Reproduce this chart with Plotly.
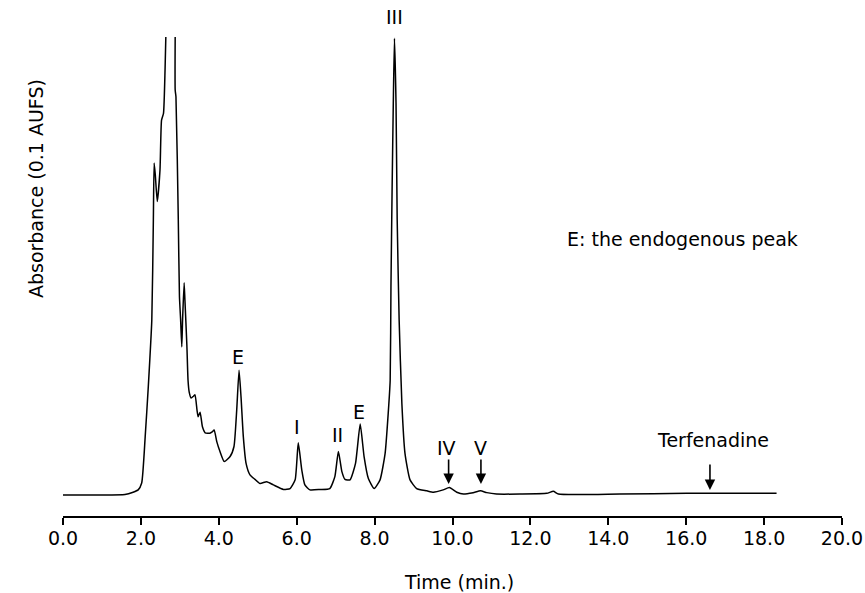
import plotly.graph_objects as go

# Chromatogram trace (time in min, relative absorbance; None = pen off-scale)
time_min = [0.00, 0.95, 1.59, 1.80, 1.93, 2.02, 2.11, 2.19, 2.28, 2.32, 2.34, 2.37, 2.42, 2.49, 2.53,
            2.58, 2.62, 2.64, None,
            2.88, 2.88, 2.90, 2.96, 2.99, 3.02, 3.05, 3.07, 3.11, 3.13, 3.18, 3.21, 3.24, 3.29, 3.35,
            3.39, 3.44, 3.47, 3.52, 3.58, 3.65, 3.77, 3.83, 3.88, 3.95, 4.03, 4.14, 4.29, 4.39, 4.46,
            4.52, 4.57, 4.63, 4.70, 4.80, 4.93, 5.06, 5.23, 5.40, 5.66, 5.83, 5.96, 6.04, 6.13, 6.21,
            6.34, 6.60, 6.85, 6.98, 7.07, 7.16, 7.24, 7.37, 7.51, 7.63, 7.73, 7.84, 7.99, 8.14, 8.27,
            8.35, 8.40, 8.42, 8.45, 8.48, 8.51, 8.55, 8.58, 8.63, 8.70, 8.78, 8.91, 9.08, 9.34, 9.51,
            9.76, 9.92, 10.11, 10.28, 10.53, 10.72, 10.88, 11.13, 11.73, 12.42, 12.59, 12.72, 14.30,
            16.01, 17.72, 18.32]
absorbance = [-0.2, -0.2, -0.1, 0.4, 0.9, 2.4, 12.5, 23.5, 38.1, 60.0, 72.4, 69.8, 64.0, 70.9, 81.8,
              83.3, 92.8, 100.0, None,
              100.0, 88.4, 86.9, 60.0, 43.2, 38.1, 32.2, 38.1, 46.2, 42.5, 32.6, 24.9, 22.3, 21.0, 21.4,
              21.7, 18.4, 16.9, 17.9, 14.7, 13.4, 13.3, 13.6, 14.0, 11.4, 9.3, 7.1, 8.2, 10.4, 18.4,
              27.1, 21.3, 12.5, 6.7, 4.2, 3.2, 2.3, 2.7, 2.0, 1.0, 1.2, 3.1, 11.2, 5.3, 2.0,
              0.9, 1.0, 1.2, 3.8, 9.3, 4.9, 3.2, 3.1, 6.7, 15.3, 8.2, 3.4, 1.2, 3.1, 8.9,
              17.7, 24.9, 45.4, 67.2, 85.5, 99.7, 85.5, 60.0, 38.1, 19.8, 8.9, 3.1, 1.2, 0.7, 0.4,
              0.9, 1.4, 0.4, 0.0, 0.3, 0.7, 0.3, 0.0, 0.0, 0.15, 0.6, 0.0, 0.0,
              0.15, 0.15, 0.15]

# Peak labels
peak_labels = ["E", "I", "II", "E", "III"]
peak_label_t = [4.49, 6.02, 7.04, 7.61, 8.51]
peak_label_y = [30.0, 14.7, 12.9, 18.0, 104.4]

# Arrow-marked peaks
arrow_labels = ["IV", "V", "Terfenadine"]
arrow_t = [9.90, 10.73, 16.61]
arrow_label_t = [9.85, 10.72, 16.69]
arrow_label_y = [10.0, 10.0, 11.8]
arrow_tail_y = [7.9, 7.9, 6.8]
arrow_head_y = [2.2, 2.2, 0.9]

x_ticks = [0, 2, 4, 6, 8, 10, 12, 14, 16, 18, 20]
x_tick_text = ["0.0", "2.0", "4.0", "6.0", "8.0", "10.0", "12.0", "14.0", "16.0", "18.0", "20.0"]

FONT = "DejaVu Sans"

fig = go.Figure()
fig.add_trace(go.Scatter(x=time_min, y=absorbance, mode="lines",
                         line=dict(color="black", width=1.5, shape="spline", smoothing=0.5),
                         connectgaps=False, showlegend=False, hoverinfo="skip"))

annotations = []
for lab, t, y in zip(peak_labels, peak_label_t, peak_label_y):
    annotations.append(dict(x=t, y=y, xref="x", yref="y", text=lab, showarrow=False,
                            font=dict(family=FONT, size=19, color="black")))
for lab, t, lt, ly, ty, hy in zip(arrow_labels, arrow_t, arrow_label_t, arrow_label_y,
                                  arrow_tail_y, arrow_head_y):
    annotations.append(dict(x=lt, y=ly, xref="x", yref="y", text=lab, showarrow=False,
                            font=dict(family=FONT, size=19, color="black")))
    annotations.append(dict(x=t, y=hy, ax=t, ay=ty, xref="x", yref="y", axref="x", ayref="y",
                            text="", showarrow=True, arrowhead=2, arrowsize=1.3, arrowwidth=1.6,
                            arrowcolor="black", standoff=0, startstandoff=0))

annotations.append(dict(x=12.89, y=55.8, xref="x", yref="y", xanchor="left",
                        text="E: the endogenous peak", showarrow=False,
                        font=dict(family=FONT, size=19, color="black")))
annotations.append(dict(x=10.17, y=0, xref="x", yref="paper", yanchor="middle", yshift=-66,
                        text="Time (min.)", showarrow=False,
                        font=dict(family=FONT, size=19, color="black")))
annotations.append(dict(x=-0.0347, y=0.648, xref="paper", yref="paper", xanchor="center",
                        yanchor="middle", textangle=-90,
                        text="Absorbance (0.1 AUFS)", showarrow=False,
                        font=dict(family=FONT, size=19, color="black")))

fig.update_layout(
    width=865, height=593,
    margin=dict(l=63, r=23, t=10, b=77, autoexpand=False),
    paper_bgcolor="white", plot_bgcolor="white",
    font=dict(family=FONT, size=19, color="black"),
    xaxis=dict(range=[0, 20], tickvals=x_ticks, ticktext=x_tick_text, showline=True,
               linecolor="black", linewidth=2, ticks="outside", ticklen=7, tickwidth=2,
               tickcolor="black", showgrid=False, zeroline=False, automargin=False,
               ticklabelstandoff=-3,
               tickfont=dict(family=FONT, size=19, color="black")),
    yaxis=dict(range=[-4.81, 105.9], showline=False, showticklabels=False, ticks="",
               showgrid=False, zeroline=False, automargin=False),
    annotations=annotations,
)

# Remove the browser's default page margin so the figure sits at the window's top-left corner.
fig.write_html("out.html",
               config={"displayModeBar": False, "staticPlot": True},
               post_script="document.body.style.margin='0';document.body.style.overflow='hidden';")
